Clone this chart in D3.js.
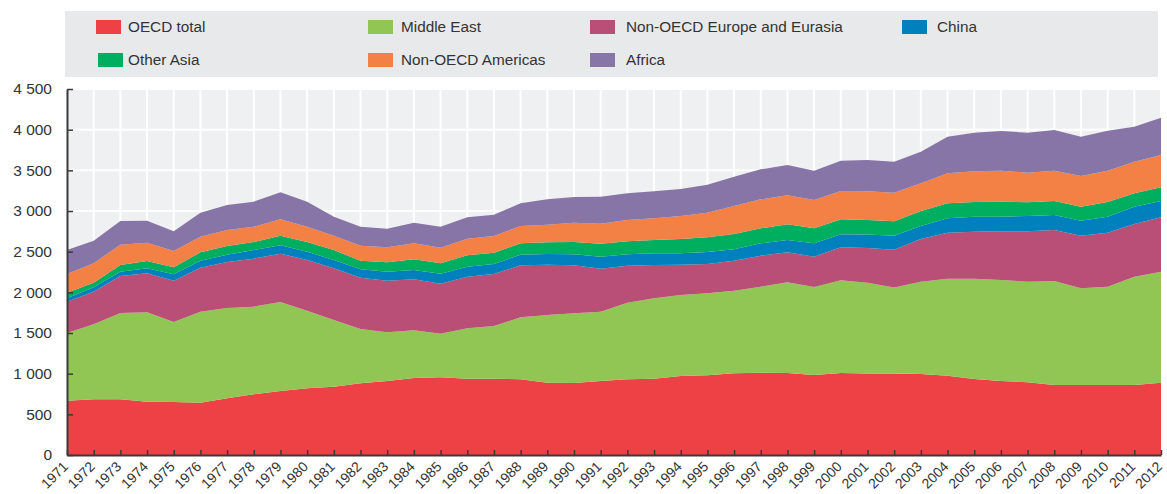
<!DOCTYPE html>
<html>
<head>
<meta charset="utf-8">
<script src="https://cdn.jsdelivr.net/npm/d3@7/dist/d3.min.js"></script>
<style>
  body { margin: 0; background: #fff; }
  svg { font-family: "Liberation Sans", Arial, sans-serif; }
</style>
</head>
<body>
<svg id="chart" width="1167" height="494"></svg>
<script>
/* DATA */
const years = [1971, 1972, 1973, 1974, 1975, 1976, 1977, 1978, 1979, 1980,
  1981, 1982, 1983, 1984, 1985, 1986, 1987, 1988, 1989, 1990,
  1991, 1992, 1993, 1994, 1995, 1996, 1997, 1998, 1999, 2000,
  2001, 2002, 2003, 2004, 2005, 2006, 2007, 2008, 2009, 2010,
  2011, 2012];

const oecd = [668, 684, 684, 656, 652, 643, 697, 746, 787, 820,
  840, 881, 910, 947, 955, 939, 939, 930, 889, 885,
  910, 930, 939, 971, 980, 1004, 1012, 1008, 984, 1008,
  1002, 1002, 996, 975, 934, 910, 893, 861, 861, 861,
  861, 889];
const middleEast = [832, 923, 1062, 1098, 983, 1119, 1110, 1078, 1094, 955,
  820, 668, 598, 586, 537, 618, 647, 763, 832, 857,
  850, 943, 987, 996, 1008, 1016, 1058, 1115, 1082, 1140,
  1117, 1057, 1135, 1193, 1234, 1242, 1238, 1278, 1188, 1209,
  1332, 1365];
const nonOecdEurope = [385, 401, 455, 480, 508, 541, 566, 590, 594, 623,
  635, 631, 635, 627, 615, 636, 639, 639, 619, 590,
  531, 455, 410, 373, 360, 369, 381, 369, 373, 405,
  426, 466, 525, 566, 578, 598, 619, 627, 648, 664,
  647, 668];
const china = [41, 53, 53, 61, 78, 86, 90, 106, 103, 102,
  103, 103, 111, 115, 123, 123, 123, 131, 131, 135,
  148, 139, 144, 140, 148, 140, 151, 151, 163, 160,
  166, 170, 160, 176, 184, 180, 189, 185, 184, 196,
  213, 201];
const otherAsia = [70, 58, 82, 90, 86, 103, 107, 99, 119, 119,
  122, 106, 115, 131, 127, 139, 140, 139, 144, 152,
  159, 160, 163, 176, 180, 188, 185, 193, 185, 185,
  178, 178, 184, 184, 181, 185, 168, 172, 172, 181,
  164, 168];
const nonOecdAmericas = [229, 238, 250, 226, 201, 192, 196, 188, 201, 188,
  177, 185, 184, 196, 192, 205, 205, 214, 217, 238,
  246, 262, 267, 283, 304, 344, 356, 357, 348, 348,
  355, 352, 340, 369, 377, 381, 364, 373, 377, 385,
  390, 398];
const africa = [295, 278, 291, 270, 242, 296, 308, 308, 332, 308,
  233, 233, 230, 255, 258, 262, 262, 278, 311, 315,
  330, 328, 332, 331, 344, 361, 369, 373, 361, 373,
  383, 382, 390, 451, 475, 488, 492, 500, 484, 492,
  430, 459];

const yTicks = [0, 500, 1000, 1500, 2000, 2500, 3000, 3500, 4000, 4500];

const series = [
  { key: "OECD total", values: oecd, color: "#ee4146" },
  { key: "Middle East", values: middleEast, color: "#92c654" },
  { key: "Non-OECD Europe and Eurasia", values: nonOecdEurope, color: "#b94f76" },
  { key: "China", values: china, color: "#0081bd" },
  { key: "Other Asia", values: otherAsia, color: "#00ae5f" },
  { key: "Non-OECD Americas", values: nonOecdAmericas, color: "#f38044" },
  { key: "Africa", values: africa, color: "#8775a7" }
];

// legend order as in the picture (two rows)
const legendItems = [
  { key: "OECD total", col: 0, row: 0 },
  { key: "Middle East", col: 1, row: 0 },
  { key: "Non-OECD Europe and Eurasia", col: 2, row: 0 },
  { key: "China", col: 3, row: 0 },
  { key: "Other Asia", col: 0, row: 1 },
  { key: "Non-OECD Americas", col: 1, row: 1 },
  { key: "Africa", col: 2, row: 1 }
];

/* LAYOUT */
const W = 1167, H = 494;
const margin = { top: 89, right: 6, bottom: 39, left: 67 };
const svg = d3.select("#chart");

const data = years.map((yr, i) => {
  const row = { year: yr };
  series.forEach((s) => (row[s.key] = s.values[i]));
  return row;
});

const x = d3.scaleLinear()
  .domain([years[0], years[years.length - 1]])
  .range([margin.left, W - margin.right]);
const y = d3.scaleLinear()
  .domain([0, 4500])
  .range([H - margin.bottom, margin.top]);

const colorOf = {};
series.forEach((s) => (colorOf[s.key] = s.color));

/* LEGEND BAND */
svg.append("rect")
  .attr("x", 65).attr("y", 11)
  .attr("width", 1093).attr("height", 66)
  .attr("fill", "#e8e9eb");

const swatchX = [96, 368, 590, 902];
const textX = [128, 401, 626, 937];
const rowY = [27, 60];
const legend = svg.append("g").attr("class", "legend");
legendItems.forEach((d) => {
  const lx = swatchX[d.col] + (d.row === 1 && d.col === 0 ? 2 : 0);
  const ly = rowY[d.row];
  legend.append("rect")
    .attr("x", lx).attr("y", ly - 7)
    .attr("width", 25).attr("height", 14)
    .attr("fill", colorOf[d.key]);
  legend.append("text")
    .attr("x", textX[d.col]).attr("y", ly)
    .attr("dy", "0.35em")
    .attr("font-size", 15.3)
    .attr("fill", "#333")
    .text(d.key);
});

/* PLOT BACKGROUND + GRID */
svg.append("rect")
  .attr("x", margin.left).attr("y", margin.top)
  .attr("width", W - margin.right - margin.left)
  .attr("height", H - margin.bottom - margin.top)
  .attr("fill", "#eff0f2");

const grid = svg.append("g").attr("class", "grid")
  .attr("stroke", "#fff").attr("stroke-width", 2);
grid.selectAll("line.h")
  .data(yTicks.filter((t) => t > 0))
  .join("line")
  .attr("class", "h")
  .attr("x1", margin.left).attr("x2", W - margin.right)
  .attr("y1", (d) => y(d)).attr("y2", (d) => y(d));
grid.selectAll("line.v")
  .data(years.slice(1))
  .join("line")
  .attr("class", "v")
  .attr("x1", (d) => x(d)).attr("x2", (d) => x(d))
  .attr("y1", margin.top).attr("y2", H - margin.bottom);

/* AREAS */
const stacked = d3.stack().keys(series.map((s) => s.key))(data);
const area = d3.area()
  .x((d) => x(d.data.year))
  .y0((d) => y(d[0]))
  .y1((d) => y(d[1]));

svg.append("g").attr("class", "areas")
  .selectAll("path")
  .data(stacked)
  .join("path")
  .attr("fill", (d) => colorOf[d.key])
  .attr("d", area);

/* AXES */
const fmt = d3.formatLocale({ decimal: ".", thousands: " ", grouping: [3], currency: ["", ""] }).format(",");

const yAxis = svg.append("g")
  .attr("transform", `translate(${margin.left},0)`)
  .call(d3.axisLeft(y).tickValues(yTicks).tickFormat(fmt)
    .tickSizeInner(-6).tickSizeOuter(0).tickPadding(15));
yAxis.select(".domain").attr("stroke", "#3a3a3a").attr("stroke-width", 2);
yAxis.selectAll(".tick line").attr("stroke", "#3a3a3a").attr("stroke-width", 1.5);
yAxis.selectAll(".tick text")
  .attr("font-size", 15.5).attr("fill", "#333")
  .attr("font-family", "Liberation Sans, Arial, sans-serif");

const xAxis = svg.append("g")
  .attr("transform", `translate(0,${H - margin.bottom})`)
  .call(d3.axisBottom(x).tickValues(years).tickFormat(d3.format("d"))
    .tickSizeInner(-5).tickSizeOuter(0).tickPadding(0));
xAxis.select(".domain").attr("stroke", "#3a3a3a").attr("stroke-width", 2);
xAxis.selectAll(".tick line").attr("stroke", "#3a3a3a").attr("stroke-width", 1.5);
xAxis.selectAll(".tick text")
  .attr("font-size", 14).attr("fill", "#333")
  .attr("font-family", "Liberation Sans, Arial, sans-serif")
  .attr("text-anchor", "end")
  .attr("dy", "0.35em")
  .attr("transform", "translate(-2,9) rotate(-45)");
</script>
</body>
</html>
